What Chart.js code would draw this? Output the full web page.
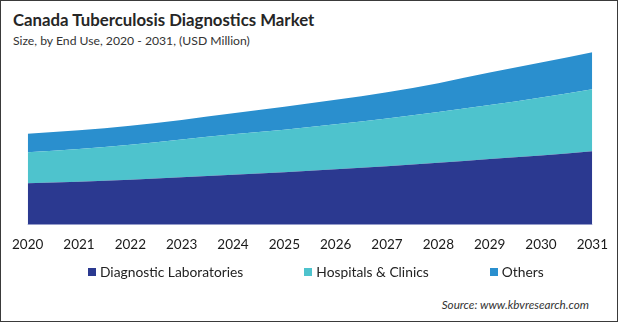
<!DOCTYPE html>
<html>
<head>
<meta charset="utf-8">
<script src="https://cdn.jsdelivr.net/npm/chart.js@4.4.1/dist/chart.umd.min.js"></script>
<style>
  html, body { margin: 0; padding: 0; background: #fff; }
  body { width: 620px; height: 323px; position: relative; overflow: hidden; font-family: Lato, "Open Sans", sans-serif; }
  #frame { position: absolute; left: 0; top: 0; width: 618px; height: 322px; box-sizing: border-box; border: 1px solid #3a3a3a; }
  #title { position: absolute; left: 13px; top: 10px; font-size: 16.8px; line-height: 20px; font-weight: 700; color: #262626; white-space: nowrap; }
  #subtitle { position: absolute; left: 13px; top: 34px; font-size: 12.2px; line-height: 14px; color: #333; white-space: nowrap; }
  #wrap { position: absolute; left: 0; top: 0; width: 620px; height: 265px; }
  #legend { position: absolute; left: 88px; top: 264px; height: 16px; display: flex; gap: 61px; font-size: 13.8px; line-height: 16px; color: #222; white-space: nowrap; }
  .item { display: flex; align-items: center; }
  .sw { width: 8px; height: 8px; margin-right: 4px; }
  #source { position: absolute; right: 31px; top: 296px; font-size: 11.7px; line-height: 16px; font-style: italic; color: #333; white-space: nowrap; }
</style>
</head>
<body>
<div id="frame"></div>
<div id="title">Canada Tuberculosis Diagnostics Market</div>
<div id="subtitle">Size, by End Use, 2020 - 2031, (USD Million)</div>
<div id="wrap"><canvas id="c"></canvas></div>
<div id="legend"></div>
<div id="source">Source: www.kbvresearch.com</div>
<script>
const years = ["2020","2021","2022","2023","2024","2025","2026","2027","2028","2029","2030","2031"];
const diagnosticLaboratories = [20.8, 21.6, 22.6, 23.8, 25.0, 26.3, 27.8, 29.3, 31.0, 32.9, 34.7, 36.8];
const hospitalsClinics = [15.5, 16.3, 17.5, 18.9, 20.3, 21.3, 22.5, 23.9, 25.4, 27.0, 29.0, 31.1];
const others = [9.3, 9.4, 9.5, 9.8, 10.5, 11.5, 12.3, 13.2, 14.5, 16.3, 17.5, 18.5];
const seriesNames = ["Diagnostic Laboratories", "Hospitals & Clinics", "Others"];
const seriesColors = ["#2B3990", "#4EC3CD", "#2A8FCE"];

const seriesData = [diagnosticLaboratories, hospitalsClinics, others];
const datasets = seriesData.map((d, i) => ({
  label: seriesNames[i],
  data: d,
  backgroundColor: seriesColors[i],
  borderColor: seriesColors[i],
  borderWidth: 0,
  pointRadius: 0,
  fill: i === 0 ? 'origin' : '-1',
  cubicInterpolationMode: 'monotone'
}));

new Chart(document.getElementById('c'), {
  type: 'line',
  data: { labels: years, datasets },
  options: {
    responsive: true,
    maintainAspectRatio: false,
    animation: false,
    layout: { padding: { left: 25, right: 26, top: 25, bottom: 0 } },
    plugins: { legend: { display: false }, tooltip: { enabled: false }, title: { display: false } },
    scales: {
      x: {
        offset: false,
        grid: { display: false, drawTicks: false },
        border: { display: true, color: '#e3e6f4', width: 1 },
        ticks: { padding: 12, color: '#1a1a1a', font: { family: 'Lato', size: 13.5 }, maxRotation: 0, autoSkip: false }
      },
      y: {
        display: false,
        stacked: true,
        min: 0,
        max: 100
      }
    }
  }
});

const legend = document.getElementById('legend');
seriesNames.forEach((n, i) => {
  const it = document.createElement('div');
  it.className = 'item';
  const sw = document.createElement('span');
  sw.className = 'sw';
  sw.style.background = seriesColors[i];
  const tx = document.createElement('span');
  tx.textContent = n;
  it.appendChild(sw); it.appendChild(tx);
  legend.appendChild(it);
});
</script>
</body>
</html>
